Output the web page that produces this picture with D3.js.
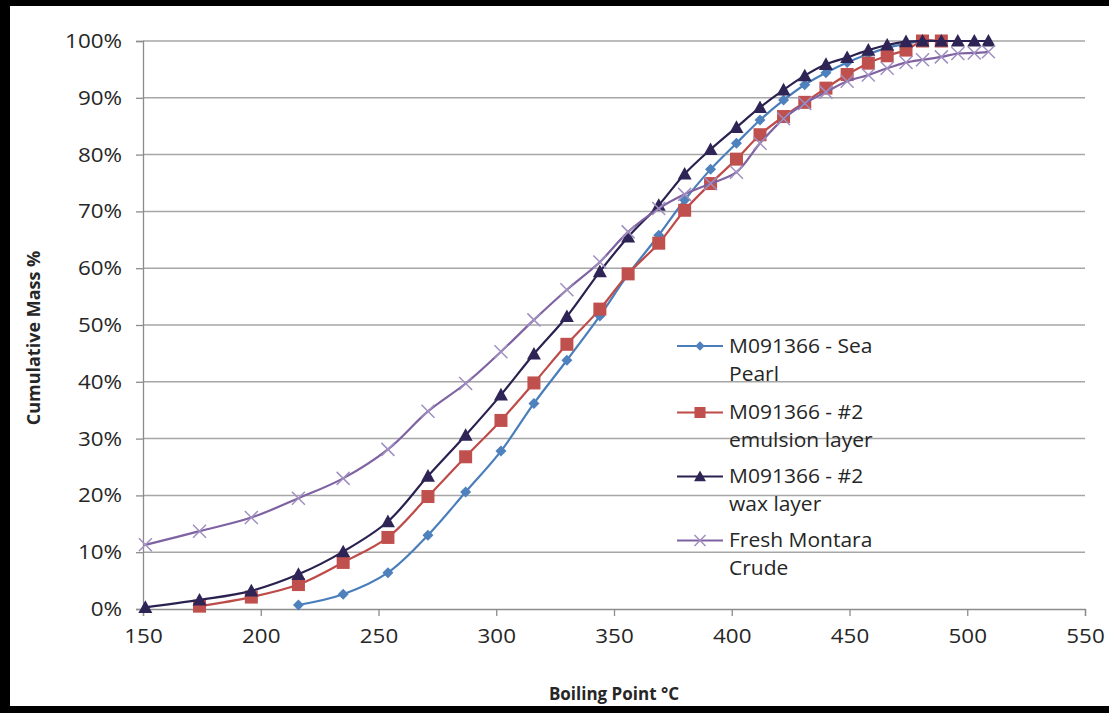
<!DOCTYPE html>
<html>
<head>
<meta charset="utf-8">
<script src="https://cdn.jsdelivr.net/npm/d3@7/dist/d3.min.js"></script>
<style>
  html, body { margin: 0; padding: 0; background: #fff; }
  svg { display: block; }
</style>
</head>
<body>
<svg id="chart" width="1109" height="713"></svg>
<script>
// ---- data ----
const temps = [151,174,196,216,235,254,271,287,302,316,330,344,356,369,380,391,402,412,422,431,440,449,458,466,474,481,489,496,503,509];
const seaPearlTemps = temps.slice(3, 27);
const seaPearl = [0.7,2.6,6.4,13.0,20.6,27.8,36.2,43.8,51.6,58.9,65.8,72.0,77.4,82.0,86.1,89.6,92.3,94.4,96.2,97.7,98.8,99.5,100,100];
const emulsionTemps = temps.slice(1, 27);
const emulsion = [0.5,2.1,4.3,8.2,12.6,19.8,26.8,33.2,39.8,46.6,52.8,59.0,64.4,70.2,74.9,79.2,83.5,86.7,89.2,91.7,94.1,96.1,97.4,98.4,100,100];
const waxTemps = temps;
const wax = [0.3,1.6,3.2,6.1,10.1,15.4,23.4,30.6,37.7,44.9,51.5,59.4,65.5,71.1,76.6,80.9,84.8,88.3,91.4,93.9,95.9,97.1,98.4,99.3,99.9,100,100,100,100,100];
const montaraTemps = temps;
const montara = [11.3,13.7,16.1,19.5,23.0,28.1,34.8,39.7,45.3,50.9,56.2,61.1,66.4,70.5,73.0,74.9,76.9,82.0,86.3,89.0,91.0,92.9,94.0,95.2,96.2,96.7,97.2,97.8,97.9,98.1];
const seriesNames = [["M091366 - Sea", "Pearl"], ["M091366 - #2", "emulsion layer"], ["M091366 - #2", "wax layer"], ["Fresh Montara", "Crude"]];
const xTicks = [150,200,250,300,350,400,450,500,550];
const yTicks = [0,10,20,30,40,50,60,70,80,90,100];
const xTitle = "Boiling Point °C";
const yTitle = "Cumulative Mass %";

// ---- setup ----
const svg = d3.select("#chart");
const W = 1109, H = 713;
const x = d3.scaleLinear().domain([150, 550]).range([143, 1085]);
const y = d3.scaleLinear().domain([0, 100]).range([609, 41]);
const FONT = "'Open Sans', 'Noto Sans', sans-serif";
const SX = 1.12;

svg.append("rect").attr("width", W).attr("height", H).attr("fill", "#fff");

// gridlines
svg.append("g").selectAll("line").data(yTicks.filter(d => d > 0)).join("line")
  .attr("x1", x(150)).attr("x2", x(550))
  .attr("y1", d => y(d)).attr("y2", d => y(d))
  .attr("stroke", "#a6a6a6").attr("stroke-width", 1.5);

// axes
const xAxis = svg.append("g").attr("transform", `translate(0,${y(0)})`)
  .call(d3.axisBottom(x).tickValues(xTicks).tickSize(7).tickPadding(13).tickFormat(d3.format("d")));
const yAxis = svg.append("g").attr("transform", `translate(${x(150)},0)`)
  .call(d3.axisLeft(y).tickValues(yTicks).tickSize(7).tickPadding(15).tickFormat(d => d + "%"));
[xAxis, yAxis].forEach(a => {
  a.select(".domain").attr("stroke", "#8c8c8c").attr("stroke-width", 1.3);
  a.selectAll(".tick line").attr("stroke", "#8c8c8c").attr("stroke-width", 1.3);
  a.selectAll(".tick text").attr("font-family", FONT).attr("font-size", 20).attr("fill", "#262626")
    .attr("transform", `scale(${SX},1)`);
});
yAxis.selectAll(".tick text").attr("x", -21 / SX);

// series
const series = [
  { t: seaPearlTemps, v: seaPearl, line: "#4a7ebb", fill: "#4f81bd", shape: "diamond" },
  { t: emulsionTemps, v: emulsion, line: "#be4b48", fill: "#c0504d", shape: "square" },
  { t: waxTemps, v: wax, line: "#2b2150", fill: "#2e2456", shape: "triangle" },
  { t: montaraTemps, v: montara, line: "#7e62a1", fill: "#a08fc0", shape: "cross" }
];
const lineGen = d3.line().x(d => x(d[0])).y(d => y(d[1])).curve(d3.curveCatmullRom.alpha(0.5));

function marker(g, s, cx, cy, scale) {
  const k = scale || 1;
  if (s.shape === "diamond") {
    const r = 5.5 * k;
    g.append("path").attr("d", `M${cx},${cy - r}L${cx + r},${cy}L${cx},${cy + r}L${cx - r},${cy}Z`).attr("fill", s.fill);
  } else if (s.shape === "square") {
    const r = 6.5 * k;
    g.append("rect").attr("x", cx - r).attr("y", cy - r).attr("width", 2 * r).attr("height", 2 * r).attr("fill", s.fill);
  } else if (s.shape === "triangle") {
    const r = 7 * k;
    g.append("path").attr("d", `M${cx},${cy - r}L${cx + r},${cy + r * 0.8}L${cx - r},${cy + r * 0.8}Z`).attr("fill", s.fill);
  } else {
    const r = 6.5 * k;
    g.append("path").attr("d", `M${cx - r},${cy - r}L${cx + r},${cy + r}M${cx + r},${cy - r}L${cx - r},${cy + r}`)
      .attr("stroke", s.fill).attr("stroke-width", 1.5).attr("fill", "none");
  }
}

series.forEach(s => {
  const pts = s.t.map((t, i) => [t, s.v[i]]);
  const g = svg.append("g");
  g.append("path").datum(pts).attr("d", lineGen).attr("fill", "none")
    .attr("stroke", s.line).attr("stroke-width", 2.2);
  pts.forEach(p => marker(g, s, x(p[0]), y(p[1])));
});

// legend
const legY = [346, 412.5, 476.5, 540.5];
series.forEach((s, i) => {
  const g = svg.append("g");
  g.append("line").attr("x1", 677).attr("x2", 723).attr("y1", legY[i]).attr("y2", legY[i])
    .attr("stroke", s.line).attr("stroke-width", 2.2);
  marker(g, s, 700, legY[i], 0.85);
  const tx = g.append("text").attr("font-family", FONT).attr("font-size", 20).attr("fill", "#262626")
    .attr("transform", `translate(729,0) scale(1.05,1)`);
  tx.append("tspan").attr("x", 0).attr("y", legY[i] + 7).text(seriesNames[i][0]);
  tx.append("tspan").attr("x", 0).attr("y", legY[i] + 35).text(seriesNames[i][1]);
});

// titles
svg.append("text").attr("x", 614).attr("y", 700).attr("text-anchor", "middle")
  .attr("font-family", FONT).attr("font-weight", "bold").attr("font-size", 17).attr("fill", "#262626").text(xTitle);
svg.append("text").attr("transform", "translate(40,338) rotate(-90)").attr("text-anchor", "middle")
  .attr("font-family", FONT).attr("font-weight", "bold").attr("font-size", 18).attr("fill", "#262626").text(yTitle);

// black frame
svg.append("rect").attr("x", 0).attr("y", 0).attr("width", W).attr("height", 6).attr("fill", "#000");
svg.append("rect").attr("x", 0).attr("y", 0).attr("width", 10).attr("height", H).attr("fill", "#000");
svg.append("rect").attr("x", 0).attr("y", 706).attr("width", W).attr("height", 7).attr("fill", "#000");
</script>
</body>
</html>
